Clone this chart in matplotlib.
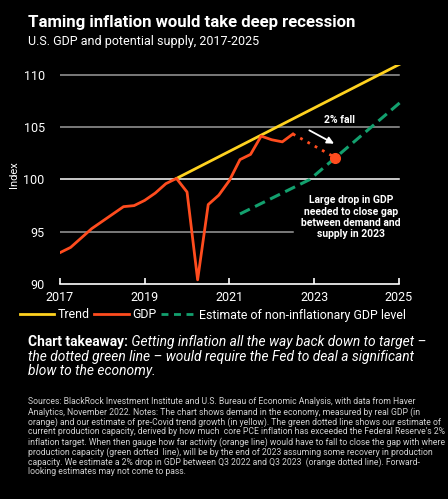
import matplotlib.pyplot as plt
from matplotlib.lines import Line2D

plt.rcParams['font.family'] = ['Roboto', 'DejaVu Sans']

# GDP, quarterly from Q1 2017 to Q3 2022
gdp_x = [2017.0, 2017.25, 2017.5, 2017.75, 2018.0, 2018.25, 2018.5, 2018.75,
         2019.0, 2019.25, 2019.5, 2019.75, 2020.0, 2020.25, 2020.5, 2020.75,
         2021.0, 2021.25, 2021.5, 2021.75, 2022.0, 2022.25, 2022.5]
gdp_y = [93.0, 93.5, 94.4, 95.3, 96.0, 96.7, 97.4, 97.5,
         98.0, 98.7, 99.6, 100.1, 98.8, 90.4, 97.6, 98.5,
         99.9, 101.9, 102.4, 104.15, 103.8, 103.6, 104.35]

# pre-Covid trend
trend_x = [2019.75, 2025.25]
trend_y = [100.1, 111.5]

# estimate of non-inflationary GDP level
est_x = [2021.25, 2022.9, 2025.1]
est_y = [96.7, 100.0, 107.6]

# projected fall
proj_x = [2022.5, 2023.5]
proj_y = [104.35, 102.1]

grid_levels = [110, 105, 100, 95]
grid_ends = [2025, 2025, 2025, 2022.5]
grid_colors = ['#9a9a9a', '#9a9a9a', '#ffffff', '#9a9a9a']

yellow = '#FFD21F'
orange = '#FF4C1E'
green = '#13A06E'

W, H = 448, 499
fig = plt.figure(figsize=(W / 100, H / 100), dpi=100, facecolor='black')
ax = fig.add_axes([60 / W, 1 - 284 / H, 343 / W, 219.5 / H])
ax.set_facecolor('black')


def fx(px):
    return px / W


def fy(py):
    return 1 - py / H


# gridlines
for lev, end, c in zip(grid_levels, grid_ends, grid_colors):
    ax.plot([2017, end], [lev, lev], color=c, lw=1.1, zorder=1)

ax.plot(trend_x, trend_y, color=yellow, lw=2, zorder=3)
ax.plot(est_x, est_y, color=green, lw=2.2, ls=(0, (3.6, 1.9)), zorder=3)
ax.plot(gdp_x, gdp_y, color=orange, lw=2, zorder=4)
ax.plot(proj_x, proj_y, color=orange, lw=2, ls=(0, (1, 2)), zorder=4)
ax.plot(proj_x[-1:], proj_y[-1:], 'o', color=orange, ms=7, zorder=5)

ax.set_xlim(2017, 2025.1)
ax.set_ylim(90, 111)
for s in ['top', 'right', 'left']:
    ax.spines[s].set_visible(False)
ax.spines['bottom'].set_color('white')
ax.spines['bottom'].set_linewidth(1.2)
ax.spines['bottom'].set_bounds(2017, 2025)
ax.set_xticks([2017, 2019, 2021, 2023, 2025])
ax.set_yticks([90, 95, 100, 105, 110])
ax.tick_params(axis='x', direction='in', colors='white', length=4, width=1.2,
               labelsize=9, pad=5)
ax.tick_params(axis='y', length=0, labelcolor='white', labelsize=9, pad=11)
ax.set_ylabel('Index', color='white', fontsize=8, labelpad=3)

# annotations
ax.annotate('', xy=(2023.53, 103.3), xytext=(2022.83, 104.83),
            arrowprops=dict(arrowstyle='-|>', color='white', lw=1.3,
                            mutation_scale=10))
ax.text(2023.6, 105.7, '2% fall', color='white', fontsize=7.5,
        fontweight='bold', ha='center', va='center')
ax.text(2023.87, 96.4, 'Large drop in GDP\nneeded to close gap\nbetween demand and\nsupply in 2023',
        color='white', fontsize=7.5, fontweight='bold', ha='center',
        va='center', linespacing=1.15)

# title block
fig.text(fx(28), fy(23), 'Taming inflation would take deep recession',
         color='white', fontsize=12.1, fontweight='bold', va='center')
fig.text(fx(28), fy(42), 'U.S. GDP and potential supply, 2017-2025',
         color='white', fontsize=9, va='center')

# legend
handles = [Line2D([], [], color=yellow, lw=2),
           Line2D([], [], color=orange, lw=2),
           Line2D([], [], color=green, lw=2, ls=(0, (2.5, 2)))]
labels = ['Trend', 'GDP', 'Estimate of non-inflationary GDP level']
leg = fig.legend(handles, labels, loc='center', ncol=3,
                 bbox_to_anchor=(fx(213), fy(315)), frameon=False,
                 fontsize=8.9, handlelength=2.8, handletextpad=0.3,
                 columnspacing=0.35, borderpad=0)
for t in leg.get_texts():
    t.set_color('white')

# takeaway
t1 = fig.text(fx(28), fy(342), 'Chart takeaway:', color='white',
              fontsize=9.9, fontweight='bold', va='center')
ax.annotate(' Getting inflation all the way back down to target \u2013',
            xy=(1, 0.5), xycoords=t1, va='center', ha='left',
            color='white', fontsize=9.9, style='italic',
            annotation_clip=False)
fig.text(fx(28), fy(357), 'the dotted green line \u2013 would require the Fed to deal a significant',
         color='white', fontsize=9.9, style='italic', va='center')
fig.text(fx(28), fy(371), 'blow to the economy.',
         color='white', fontsize=9.9, style='italic', va='center')

sources = [
    "Sources: BlackRock Investment Institute and U.S. Bureau of Economic Analysis, with data from Haver",
    "Analytics, November 2022. Notes: The chart shows demand in the economy, measured by real GDP (in",
    "orange) and our estimate of pre-Covid trend growth (in yellow). The green dotted line shows our estimate of",
    "current production capacity, derived by how much  core PCE inflation has exceeded the Federal Reserve's 2%",
    "inflation target. When then gauge how far activity (orange line) would have to fall to close the gap with where",
    "production capacity (green dotted  line), will be by the end of 2023 assuming some recovery in production",
    "capacity. We estimate a 2% drop in GDP between Q3 2022 and Q3 2023  (orange dotted line). Forward-",
    "looking estimates may not come to pass.",
]
for i, line in enumerate(sources):
    fig.text(fx(28), fy(402 + i * 10), line, color='#d0d0d0', fontsize=6.2,
             va='center')

fig.savefig('out.png', dpi=100, facecolor='black')
